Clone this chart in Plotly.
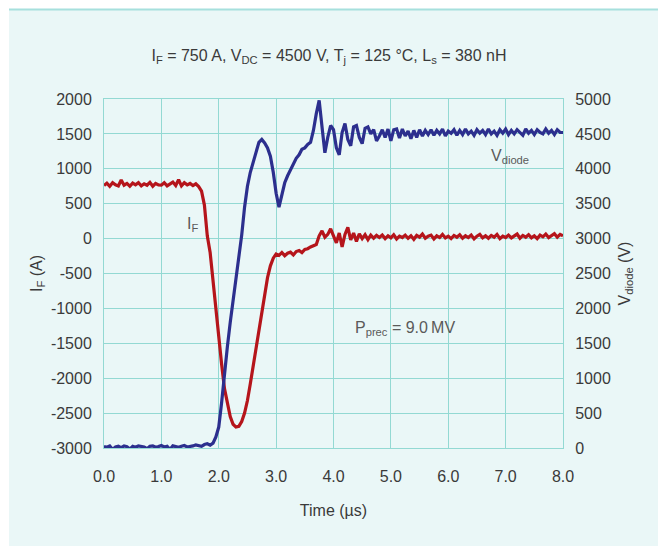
import plotly.graph_objects as go

# Sampling grid of the recorded waveforms (µs), 0.05 µs per sample
time_us = [round(i * 0.05, 2) for i in range(161)]

# Diode forward current I_F (A), one row per microsecond
current_a = (
    [760, 795, 750, 800, 770, 755, 840, 765, 790, 750, 795, 770, 800, 755, 785, 765, 805, 750, 790, 770]
    + [765, 800, 755, 785, 810, 760, 845, 755, 800, 770, 790, 760, 785, 745, 680, 480, 40, -200, -620, -1000]
    + [-1380, -1800, -2150, -2380, -2550, -2660, -2700, -2690, -2620, -2500, -2320, -2080, -1830, -1580, -1300, -1030, -780, -560, -390, -280]
    + [-220, -240, -200, -245, -210, -195, -235, -185, -170, -200, -155, -145, -120, -100, -85, 40, 110, 20, 60, 140]
    + [30, -60, 80, -120, 60, 160, -20, 80, -40, 70, 0, 55, -15, 50, 5, 45, 15, 50, 0, 40]
    + [10, 55, -5, 35, 15, 50, 5, 40, -10, 45, 20, 65, 5, 35, 50, -5, 40, 15, 60, 10]
    + [35, 0, 45, 20, 55, 5, 40, 15, 50, -5, 35, 60, 10, 40, 5, 45, 20, 60, 0, 35]
    + [15, 50, 10, 40, 65, 5, 45, 20, 55, 10, 40, 0, 50, 25, 65, 15, 45, 70, 20, 60]
    + [40]
)

# Diode voltage V_diode (V), one row per microsecond
voltage_v = (
    [20, 10, 30, -20, 15, 25, 5, 30, 20, -15, 25, 10, 30, 20, 15, -10, 25, 30, 10, 20]
    + [35, 15, 25, -20, 30, 20, 10, 25, 35, 15, 20, 30, 45, 40, 25, 50, 60, 40, 70, 160]
    + [300, 650, 1100, 1450, 1800, 2100, 2400, 2700, 3050, 3450, 3750, 3950, 4100, 4230, 4380, 4420, 4370, 4300, 4180, 3950]
    + [3650, 3450, 3650, 3800, 3900, 3980, 4050, 4150, 4200, 4280, 4300, 4350, 4380, 4550, 4790, 4980, 4600, 4230, 4450, 4620]
    + [4560, 4300, 4200, 4520, 4650, 4420, 4330, 4600, 4620, 4450, 4360, 4580, 4600, 4500, 4560, 4400, 4470, 4560, 4450, 4570]
    + [4400, 4560, 4570, 4440, 4570, 4470, 4540, 4430, 4550, 4450, 4560, 4470, 4550, 4490, 4560, 4480, 4550, 4500, 4570, 4470]
    + [4540, 4510, 4560, 4480, 4550, 4490, 4570, 4500, 4540, 4480, 4560, 4510, 4550, 4490, 4570, 4500, 4540, 4480, 4560, 4510]
    + [4570, 4490, 4550, 4500, 4560, 4520, 4480, 4570, 4510, 4550, 4490, 4560, 4520, 4500, 4570, 4510, 4550, 4490, 4560, 4520]
    + [4520]
)

x_ticks = [0, 1, 2, 3, 4, 5, 6, 7, 8]
x_ticktext = ["0.0", "1.0", "2.0", "3.0", "4.0", "5.0", "6.0", "7.0", "8.0"]
i_ticks = [2000, 1500, 1000, 500, 0, -500, -1000, -1500, -2000, -2500, -3000]
v_ticks = [5000, 4500, 4000, 3500, 3000, 2500, 2000, 1500, 1000, 500, 0]

BG = "#eaf7f7"
GRID = "#93d9d3"
TEXT = "#3a3a3a"
LABEL = "#5a5a5a"
RED = "#b5151b"
BLUE = "#2c2f8e"
FONT = "Liberation Sans, Arial, sans-serif"

fig = go.Figure()
fig.add_trace(go.Scatter(x=time_us, y=current_a, mode="lines",
                         line=dict(color=RED, width=3.2), yaxis="y", showlegend=False))
fig.add_trace(go.Scatter(x=time_us, y=voltage_v, mode="lines",
                         line=dict(color=BLUE, width=3.2), yaxis="y2", showlegend=False))

axis_common = dict(
    showgrid=True, gridcolor=GRID, gridwidth=1,
    showline=True, linecolor=GRID, linewidth=1, mirror=True,
    zeroline=False, ticks="",
    tickfont=dict(family=FONT, size=16, color=TEXT),
)

fig.update_layout(
    width=658, height=546,
    margin=dict(l=104, r=95, t=99, b=98),
    paper_bgcolor=BG, plot_bgcolor=BG,
    font=dict(family=FONT, color=TEXT),
    title=dict(
        text="I<sub>F</sub> = 750 A, V<sub>DC</sub> = 4500 V, T<sub>j</sub> = 125 °C, L<sub>s</sub> = 380 nH",
        x=0.5, xanchor="center", y=1 - 55 / 546, yanchor="middle",
        font=dict(family=FONT, size=16, color=TEXT),
    ),
    xaxis=dict(
        axis_common, range=[0, 8], tickvals=x_ticks, ticktext=x_ticktext,
        ticklabelstandoff=14,
        title=dict(text="Time (µs)", standoff=20, font=dict(family=FONT, size=16, color=TEXT)),
    ),
    yaxis=dict(
        axis_common, range=[-3000, 2000], tickvals=i_ticks,
        ticktext=[str(v) for v in i_ticks], ticklabelstandoff=8,
        title=dict(text="I<sub>F</sub> (A)", standoff=4, font=dict(family=FONT, size=16, color=TEXT)),
    ),
    yaxis2=dict(
        axis_common, range=[0, 5000], tickvals=v_ticks,
        ticktext=[str(v) for v in v_ticks], ticklabelstandoff=8,
        overlaying="y", side="right",
        title=dict(text="V<sub>diode</sub> (V)", standoff=8, font=dict(family=FONT, size=16, color=TEXT)),
    ),
    shapes=[
        # white strips along the top and left edges of the page
        dict(type="rect", xref="paper", yref="paper",
             x0=-104 / 459, x1=(9 - 104) / 459, y0=-98 / 349, y1=1 + 99 / 349,
             fillcolor="white", line=dict(width=0), layer="below"),
        dict(type="rect", xref="paper", yref="paper",
             x0=-104 / 459, x1=1 + 95 / 459, y0=1 + 90 / 349, y1=1 + 99 / 349,
             fillcolor="white", line=dict(width=0), layer="below"),
        dict(type="line", xref="paper", yref="paper",
             x0=(9 - 104) / 459, x1=1 + 95 / 459, y0=1 + 89.5 / 349, y1=1 + 89.5 / 349,
             line=dict(color="#a6e0dd", width=2), layer="below"),
    ],
    annotations=[
        dict(x=1.55, y=200, xref="x", yref="y", text="I<sub>F</sub>", showarrow=False,
             font=dict(family=FONT, size=16, color=LABEL)),
        dict(x=7.07, y=4170, xref="x", yref="y2", text="V<sub>diode</sub>", showarrow=False,
             font=dict(family=FONT, size=16, color=LABEL)),
        dict(x=5.24, y=-1282, xref="x", yref="y", text="P<sub>prec</sub> = 9.0\u2009MV", showarrow=False,
             font=dict(family=FONT, size=16, color=LABEL)),
    ],
)

fig.write_html("out.html")
